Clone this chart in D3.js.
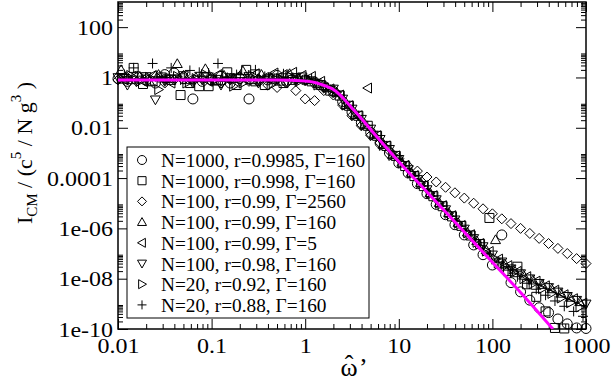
<!DOCTYPE html>
<html><head><meta charset="utf-8">
<script src="https://cdn.jsdelivr.net/npm/d3@7"></script>
<style>html,body{margin:0;padding:0;background:#fff;} svg{display:block;} text{font-family:"Liberation Serif",Tinos,"Times New Roman",Times,serif;}</style>
</head><body><svg id="c" width="614" height="382"></svg>
<script>
// ---- data ----
const omegaA = [0.01,0.0126,0.0158,0.02,0.0251,0.0316,0.0398,0.0501,0.0631,0.0794,0.1,0.126,0.158,0.2,0.251,0.316,0.398,0.501,0.631,0.794,1,1.26,1.58,2,2.51,3.16,3.98,5.01,6.31,7.94,10,12.6,15.8,20,25.1,31.6,39.8,50.1,63.1,79.4,100,126,158,200,251,316,398,501,631,794,1000];
const omegaB = [0.0108,0.0136,0.0171,0.0216,0.0271,0.0341,0.043,0.0541,0.0681,0.0858,0.108,0.136,0.171,0.216,0.271,0.341,0.43,0.541,0.681,0.858,1.08,1.36,1.71,2.16,2.71,3.41,4.3,5.41,6.81,8.58,10.8,13.6,17.1,21.6,27.1,34.1,43,54.1,68.1,85.8,108,136,171,216,271,341,430,541,681,858];
const omegaC = [0.0117,0.0147,0.0185,0.0234,0.0294,0.037,0.0466,0.0586,0.0738,0.0929,0.117,0.147,0.185,0.234,0.294,0.37,0.466,0.586,0.738,0.929,1.17,1.47,1.85,2.34,2.94,3.7,4.66,5.86,7.38,9.29,11.7,14.7,18.5,23.4,29.4,37,46.6,58.6,73.8,92.9,117,147,185,234,294,370,466,586,738,929];

const circleVals = [0.9,0.7,1.1,0.8,0.6,1.3,1.5,0.9,0.14,0.7, 0.8,1.1,0.6,0.9,0.14,0.75,0.8,1.2,0.7,0.9, 0.8,0.65,0.45,0.28,0.11,0.042,0.016,0.0065,0.0025,0.001, 4e-4,1.6e-4,6e-5,2.4e-5,9e-6,3.5e-6,1.4e-6,5.5e-7,2.2e-7,9e-8, 3.5e-8,5.5e-7,7e-9,3e-9,1.4e-9,7e-10,4.5e-10,2.5e-10,1.6e-10,1.1e-10,1.05e-10];
const squareVals = [0.9,2.4,0.55,0.7,1.0,0.8,0.2,0.6,0.45,0.45, 0.8,1.6,0.5,2.0,0.7,0.5,0.9,0.6,0.8,1.0, 0.7,0.5,0.3,0.19,0.075,0.03,0.012,0.0048,0.0019,7.6e-4, 3e-4,1.2e-4,4.8e-5,1.9e-5,7.6e-6,3e-6,1.26e-6,5.2e-7,2.4e-7,2.6e-6, 4e-8,2e-8,3e-8,6e-9,1.9e-9,5e-10,1.1e-10,1.05e-10];
const diamondVals = [0.8,1.0,0.7,0.9,1.1,0.6,0.8,1.2,0.7,0.9, 1.0,0.6,0.8,1.1,0.7,0.9,0.5,0.4,0.6,0.3, 0.14,0.12,0.3,0.2,0.08,0.03,0.012,0.005,0.0025,0.0012, 6e-4,3e-4,1.9e-4,1.1e-4,7e-5,4.3e-5,2.6e-5,1.6e-5,1e-5,6e-6, 3.8e-6,2.4e-6,1.55e-6,1e-6,6.3e-7,4e-7,2.5e-7,1.6e-7,1e-7,6.3e-8,4e-8];
const upVals = [2.0,0.8,1.1,0.7,1.3,0.9,3.5,0.8,1.0,2.2, 0.7,1.2,0.9,1.8,0.8,1.3,1.0,0.7,1.4,0.9, 0.8,0.55,0.4,0.26,0.083,0.033,0.013,0.0052,0.0021,8.3e-4, 4.2e-4,1.66e-4,6.6e-5,2.6e-5,1.05e-5,4.2e-6,1.7e-6,7e-7,3.2e-7,1.4e-7, 3.5e-7,3.8e-8,2.2e-8,1.35e-8,8.7e-9,5.8e-9,3.9e-9,2.6e-9,1.8e-9,1.2e-9];
const leftVals = [0.8,1.0,0.7,1.2,0.9,0.6,1.1,0.8,1.0,0.7, 1.3,0.9,1.1,0.8,1.4,1.0,1.5,1.3,1.6,1.2, 1.1,0.7,0.35,0.2,0.075,0.03,0.38,0.0048,0.0019,7.6e-4, 3.2e-4,1.26e-4,5e-5,2e-5,8e-6,3.2e-6,1.3e-6,5.6e-7,2.5e-7,1.2e-7, 6e-8,3.3e-8,1.95e-8,1.2e-8,8e-9,5.2e-9,3.5e-9,2.3e-9,1.6e-9,1.07e-9];
const downVals = [1.0,0.5,0.8,1.1,0.13,0.7,0.9,1.2,0.6,0.8, 0.9,0.5,1.0,0.7,1.1,0.6,0.9,0.8,0.7,1.0, 0.75,0.6,0.42,0.35,0.14,0.056,0.022,0.009,0.0035,0.0014, 5.6e-4,2.2e-4,8.9e-5,3.5e-5,1.4e-5,5.6e-6,2.2e-6,9.5e-7,4e-7,1.9e-7, 8.9e-8,4.7e-8,2.5e-8,1.6e-8,1e-8,6.6e-9,4.5e-9,3e-9,2e-9,1.4e-9,1e-9];
const rightVals = [0.9,1.2,0.7,1.0,0.33,0.8,1.1,0.6,0.9,1.3, 0.8,0.7,0.45,0.6,1.2,0.8,0.5,0.9,1.1,0.7, 0.8,0.5,0.38,0.25,0.08,0.032,0.013,0.005,0.002,8e-4, 4e-4,1.6e-4,6.3e-5,2.5e-5,1e-5,4e-6,1.6e-6,6.6e-7,2.8e-7,1.25e-7, 6e-8,3.2e-8,1.8e-8,1e-8,6.3e-9,4e-9,2.6e-9,1.7e-9,1.1e-9,7.5e-10];
const plusVals = [1.3,2.4,0.9,3.6,1.1,2.4,0.8,1.9,1.6,1.5, 3.6,1.0,1.3,0.8,2.0,1.1,0.9,1.4,1.0,0.8, 0.9,0.6,0.33,0.2,0.075,0.03,0.012,0.0048,0.0019,7.6e-4, 3e-4,1.2e-4,4.8e-5,1.9e-5,7.6e-6,3e-6,1.2e-6,5e-7,2.1e-7,9.5e-8, 4.5e-8,2.2e-8,1.2e-8,6.6e-9,3.8e-9,2.2e-9,1.3e-9,8e-10,5e-10,3.2e-10];

const fitOmega = [0.01,0.1,0.5,1,1.3,1.6,2,2.4,2.8,3.85,5.85,10.3,20,50,100,200,443];
const fitVals  = [0.8,0.8,0.79,0.72,0.62,0.48,0.33,0.19,0.1,0.027,0.0043,4e-4,2.8e-5,7.2e-7,4.5e-8,2.85e-9,1e-10];

const legendLabels = ["N=1000, r=0.9985, \u0393=160","N=1000, r=0.998, \u0393=160","N=100, r=0.99, \u0393=2560","N=100, r=0.99, \u0393=160","N=100, r=0.99, \u0393=5","N=100, r=0.98, \u0393=160","N=20, r=0.92, \u0393=160","N=20, r=0.88, \u0393=160"];
const symbolNames = ["circle","square","diamond","up","left","down","right","plus"];

const xTicks = [0.01,0.1,1,10,100,1000];
const xTickLabels = ["0.01","0.1","1","10","100","1000"];
const yTicks = [1e-10,1e-8,1e-6,1e-4,1e-2,1,100];
const yTickLabels = ["1e-10","1e-08","1e-06","0.0001","0.01","1","100"];

// ---- layout ----
const L = 118, R = 586, T = 2, B = 329;
const svg = d3.select("#c");
const x = d3.scaleLog().domain([0.01, 1000]).range([L, R]);
const y = d3.scaleLog().domain([1e-10, 1000]).range([B, T]);

// approximate Times advance widths (em) so text keeps the reference's extent
const advance = {".":0.25, ",":0.25, " ":0.25, "N":0.722, "=":0.564, "r":0.333, "\u0393":0.578, "e":0.444, "-":0.333};
const emWidth = s => Array.from(s).reduce((a, ch) => a + (advance[ch] !== undefined ? advance[ch] : 0.5), 0);
function fitText(sel, size) {
  sel.each(function() {
    const t = this.textContent;
    d3.select(this).attr("textLength", (emWidth(t) * size).toFixed(1)).attr("lengthAdjust", "spacingAndGlyphs");
  });
}

const series = [
  {om: omegaA, v: circleVals}, {om: omegaC, v: squareVals}, {om: omegaA, v: diamondVals},
  {om: omegaB, v: upVals}, {om: omegaC, v: leftVals}, {om: omegaA, v: downVals},
  {om: omegaB, v: rightVals}, {om: omegaC, v: plusVals}
];

function sym(name, s) {
  switch (name) {
    case "circle": return `M${-s},0a${s},${s} 0 1,0 ${2*s},0a${s},${s} 0 1,0 ${-2*s},0Z`;
    case "square": { const q = s*0.9; return `M${-q},${-q}h${2*q}v${2*q}h${-2*q}Z`; }
    case "diamond": return `M0,${-s}L${s},0L0,${s}L${-s},0Z`;
    case "up": return `M0,${-s}L${s},${s*0.75}L${-s},${s*0.75}Z`;
    case "down": return `M0,${s}L${s},${-s*0.75}L${-s},${-s*0.75}Z`;
    case "left": return `M${-s},0L${s*0.75},${-s}L${s*0.75},${s}Z`;
    case "right": return `M${s},0L${-s*0.75},${-s}L${-s*0.75},${s}Z`;
    case "plus": return `M${-s},0H${s}M0,${-s}V${s}`;
  }
}

// minor tick values
const xMinor = [], yMinor = [];
for (let d = -2; d < 3; d++) for (let k = 2; k <= 9; k++) xMinor.push(k * Math.pow(10, d));
for (let e = -10; e <= 2; e += 2) for (let k = 2; k <= 9; k++) yMinor.push(k * Math.pow(10, e));

function drawAxis(axis, tx, ty, cls) {
  const g = svg.append("g").attr("class", cls).attr("transform", `translate(${tx},${ty})`).call(axis);
  g.attr("font-family", null);
  g.select(".domain").remove();
  g.selectAll("line").attr("stroke", "#000").attr("stroke-width", 1);
  return g;
}
drawAxis(d3.axisBottom(x).tickValues(xTicks).tickSize(-10).tickPadding(8).tickFormat((d,i)=>xTickLabels[i]), 0, B, "xb");
drawAxis(d3.axisBottom(x).tickValues(xMinor).tickSize(-5).tickFormat(""), 0, B, "xbm");
drawAxis(d3.axisTop(x).tickValues(xTicks).tickSize(-10).tickFormat(""), 0, T, "xt");
drawAxis(d3.axisTop(x).tickValues(xMinor).tickSize(-5).tickFormat(""), 0, T, "xtm");
drawAxis(d3.axisLeft(y).tickValues(yTicks).tickSize(-10).tickPadding(5).tickFormat((d,i)=>yTickLabels[i]), L, 0, "yl");
drawAxis(d3.axisLeft(y).tickValues(yMinor).tickSize(-5).tickFormat(""), L, 0, "ylm");
drawAxis(d3.axisRight(y).tickValues(yTicks).tickSize(-10).tickFormat(""), R, 0, "yr");
drawAxis(d3.axisRight(y).tickValues(yMinor).tickSize(-5).tickFormat(""), R, 0, "yrm");
const tickTexts = svg.selectAll(".xb text, .yl text").attr("font-size", 22).attr("fill", "#000");
fitText(tickTexts, 24);

// frame
svg.append("rect").attr("x", L).attr("y", T).attr("width", R - L).attr("height", B - T)
  .attr("fill", "none").attr("stroke", "#000").attr("stroke-width", 1.5);

// legend box
const lg = svg.append("g");
lg.append("rect").attr("x", 127).attr("y", 147).attr("width", 242).attr("height", 171)
  .attr("fill", "#fff").attr("stroke", "#000").attr("stroke-width", 1);
legendLabels.forEach((t, i) => {
  const cy = 160 + i * 20.7;
  lg.append("path").attr("d", sym(symbolNames[i], 4.5)).attr("transform", `translate(142,${cy})`)
    .attr("fill", "none").attr("stroke", "#000").attr("stroke-width", 1);
  const tx = lg.append("text").attr("x", 161).attr("y", cy + 7).attr("font-size", 18.5).attr("fill", "#000").text(t);
  fitText(tx, 19.3);
});

// symbols
series.forEach((s, i) => {
  const pts = s.v.map((v, j) => ({w: s.om[j], v: v})).filter(p => p.w !== undefined);
  svg.append("g").selectAll("path").data(pts).join("path")
    .attr("d", sym(symbolNames[i], 5))
    .attr("transform", d => `translate(${x(d.w)},${y(d.v)})`)
    .attr("fill", "none").attr("stroke", "#000").attr("stroke-width", 1);
});

// fit line
svg.append("clipPath").attr("id", "clip").append("rect").attr("x", L).attr("y", T).attr("width", R - L).attr("height", B - T);
const line = d3.line().x((d, i) => x(fitOmega[i])).y(d => y(d)).curve(d3.curveMonotoneX);
svg.append("path").attr("d", line(fitVals)).attr("clip-path", "url(#clip)")
  .attr("fill", "none").attr("stroke", "#ff00ff").attr("stroke-width", 3);

// x axis title: omega with hat and prime
svg.append("text").attr("x", 349).attr("y", 376).attr("text-anchor", "middle").attr("font-size", 26).attr("fill", "#000").text("\u03C9");
svg.append("text").attr("x", 349).attr("y", 373).attr("text-anchor", "middle").attr("font-size", 26).attr("fill", "#000").text("\u02C6");
svg.append("text").attr("x", 359).attr("y", 376).attr("font-size", 26).attr("fill", "#000").text("\u2019");

// y axis title
const yt = svg.append("text").attr("transform", "translate(32,153) rotate(-90)").attr("text-anchor", "middle")
  .attr("font-size", 22).attr("fill", "#000");
yt.append("tspan").text("I");
yt.append("tspan").attr("font-size", 15).attr("dy", 5).text("CM");
yt.append("tspan").attr("dy", -5).text(" / (c");
yt.append("tspan").attr("font-size", 15).attr("dy", -11).text("5");
yt.append("tspan").attr("dy", 11).text(" / N g");
yt.append("tspan").attr("font-size", 15).attr("dy", -11).text("3");
yt.append("tspan").attr("dy", 11).text(" )");
</script></body></html>
